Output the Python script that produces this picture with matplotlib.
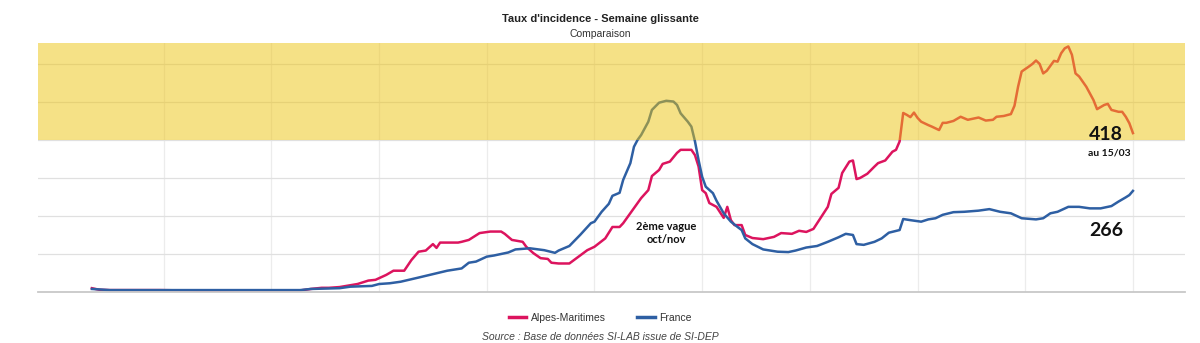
import matplotlib
matplotlib.use("Agg")
import matplotlib.pyplot as plt
from matplotlib.lines import Line2D

# Days counted from the first day of the series (end point = 15/03)
am_days = [0, 2, 5, 11, 19, 27, 30, 34, 41, 50, 58, 61, 64, 66, 69, 74, 77, 79, 82, 84,
           87, 89, 91, 93, 95, 96, 97, 102, 103, 105, 108, 111, 114, 115, 117, 120, 121,
           123, 125, 127, 128, 130, 133, 135, 138, 140, 143, 145, 147, 148, 152, 153, 155,
           156, 158, 159, 161, 163, 164, 167, 168, 169, 170, 171, 172, 174, 176, 177, 178,
           179, 181, 182, 184, 187, 190, 192, 195, 197, 199, 201, 203, 205, 206, 208, 209,
           211, 212, 213, 214, 216, 218, 219, 221, 223, 224, 225, 226, 227, 228, 229, 230,
           231, 233, 234, 236, 237, 238, 240, 242, 244, 247, 249, 251, 252, 254, 256, 257,
           258, 259, 261, 262, 263, 264, 265, 266, 268, 269, 270, 271, 272, 273, 274, 275,
           277, 279, 280, 282, 283, 284, 286, 287, 288, 289, 290]
am_values = [10, 6, 5, 5, 5, 4, 3, 3, 4, 4, 4, 8, 11, 11, 13, 21, 30, 32, 45, 56,
             56, 84, 106, 109, 126, 116, 130, 130, 132, 137, 155, 159, 159, 153, 137, 132, 119,
             102, 89, 87, 77, 75, 75, 89, 110, 119, 141, 171, 171, 181, 234, 247, 268,
             305, 321, 337, 343, 366, 374, 374, 360, 330, 268, 260, 234, 224, 195, 224, 189,
             176, 176, 150, 142, 139, 145, 155, 153, 161, 158, 166, 195, 224, 258, 274, 313,
             343, 346, 297, 300, 311, 330, 339, 346, 369, 374, 396, 471, 466, 460, 472, 458,
             448, 439, 435, 426, 445, 445, 450, 461, 453, 459, 451, 453, 461, 463, 468, 490,
             540, 580, 593, 600, 609, 600, 575, 582, 608, 606, 628, 641, 646, 624, 575, 567,
             540, 505, 481, 492, 495, 479, 474, 474, 461, 444, 418]

fr_days = [0, 5, 19, 30, 44, 58, 61, 69, 72, 78, 80, 83, 86, 91, 95, 99, 103, 105, 107,
           110, 112, 114, 116, 118, 122, 126, 129, 130, 133, 136, 139, 140, 142, 144, 145,
           147, 148, 150, 151, 152, 153, 155, 156, 158, 160, 162, 163, 164, 166, 167, 168,
           169, 170, 171, 173, 174, 176, 178, 180, 181, 182, 184, 187, 191, 194, 196, 199,
           202, 205, 208, 210, 212, 213, 215, 218, 220, 222, 225, 226, 228, 231, 233, 235,
           237, 240, 243, 247, 250, 253, 256, 259, 263, 265, 267, 269, 272, 275, 278, 281,
           284, 286, 288, 289, 290]
fr_values = [8, 5, 5, 5, 5, 5, 8, 10, 14, 16, 21, 23, 27, 38, 47, 56, 62, 77, 80,
             93, 96, 100, 104, 112, 115, 110, 103, 109, 121, 150, 181, 185, 211, 232, 253,
             261, 295, 339, 382, 400, 413, 448, 479, 498, 503, 501, 492, 470, 448, 435, 396,
             347, 303, 277, 260, 240, 207, 185, 170, 163, 141, 126, 112, 106, 105, 109, 117,
             121, 132, 144, 153, 150, 126, 124, 132, 141, 156, 163, 192, 189, 185, 191, 194,
             203, 210, 211, 214, 218, 211, 207, 194, 191, 194, 207, 211, 224, 224, 220, 220,
             226, 238, 249, 255, 266]

series_names = ["Alpes-Maritimes", "France"]
series_colors = ["#DC145E", "#2E5FA3"]
alert_threshold = 400
gridline_days = list(range(20, 291, 30))

plt.rcParams["font.family"] = ["Liberation Sans", "DejaVu Sans"]

fig = plt.figure(figsize=(12, 3.43), dpi=100)
ax = fig.add_axes([0.0317, 0.1487, 0.9558, 0.7259])

ax.plot(am_days, am_values, color=series_colors[0], lw=1.8, zorder=2,
        solid_joinstyle="round")
ax.plot(fr_days, fr_values, color=series_colors[1], lw=1.8, zorder=2,
        solid_joinstyle="round")

# Translucent alert band above the threshold, drawn over the curves
ax.axhspan(alert_threshold, 700, color=(0.93, 0.77, 0.06), alpha=0.5, lw=0, zorder=3)

ax.set_xlim(-15, 304.5)
ax.set_ylim(0, 655)
ax.set_yticks(range(100, 700, 100))
ax.set_xticks(gridline_days)
ax.grid(True, axis="y", color="#e0e0e0", lw=0.9, zorder=0)
ax.grid(True, axis="x", color="#ececec", lw=0.9, zorder=0)
ax.tick_params(left=False, bottom=False, labelleft=False, labelbottom=False)
for side in ["left", "right", "top"]:
    ax.spines[side].set_visible(False)
ax.spines["bottom"].set_color("#c8c8c8")
ax.spines["bottom"].set_linewidth(1.3)

# Value annotations
note_font = ["Lato", "DejaVu Sans"]
ax.text(282.5, am_values[-1] - 3, str(am_values[-1]), ha="center", va="center",
        fontsize=14, fontweight="bold", family=note_font, color="#111111", zorder=5)
ax.text(283.3, 365, "au 15/03", ha="center", va="center", fontsize=7.5,
        fontweight="bold", family=note_font, color="#111111", zorder=5)
ax.text(282.5, fr_values[-1] - 104, str(fr_values[-1]), ha="center", va="center",
        fontsize=14, fontweight="bold", family=note_font, color="#111111", zorder=5)
ax.text(160, 155, "2ème vague\noct/nov", ha="center", va="center", fontsize=8,
        fontweight="bold", family=note_font, color="#111111",
        linespacing=1.15, zorder=5)

fig.text(0.5, 1 - 19 / 343, "Taux d'incidence - Semaine glissante", ha="center",
         va="center", fontsize=8, fontweight="bold", color="#222222")
fig.text(0.5, 1 - 34 / 343, "Comparaison", ha="center", va="center", fontsize=7.5,
         color="#333333")

handles = [Line2D([], [], color=c, lw=2.5) for c in series_colors]
fig.legend(handles, series_names, loc="center", bbox_to_anchor=(0.5, 1 - 318 / 343),
           ncol=2, frameon=False, fontsize=7.5, handlelength=1.7, handletextpad=0.4,
           columnspacing=3.0, labelcolor="#333333")

fig.text(0.5, 1 - 337 / 343, "Source : Base de données SI-LAB issue de SI-DEP",
         ha="center", va="center", fontsize=7.5, style="italic", color="#444444")

fig.savefig("out.png", dpi=100)
